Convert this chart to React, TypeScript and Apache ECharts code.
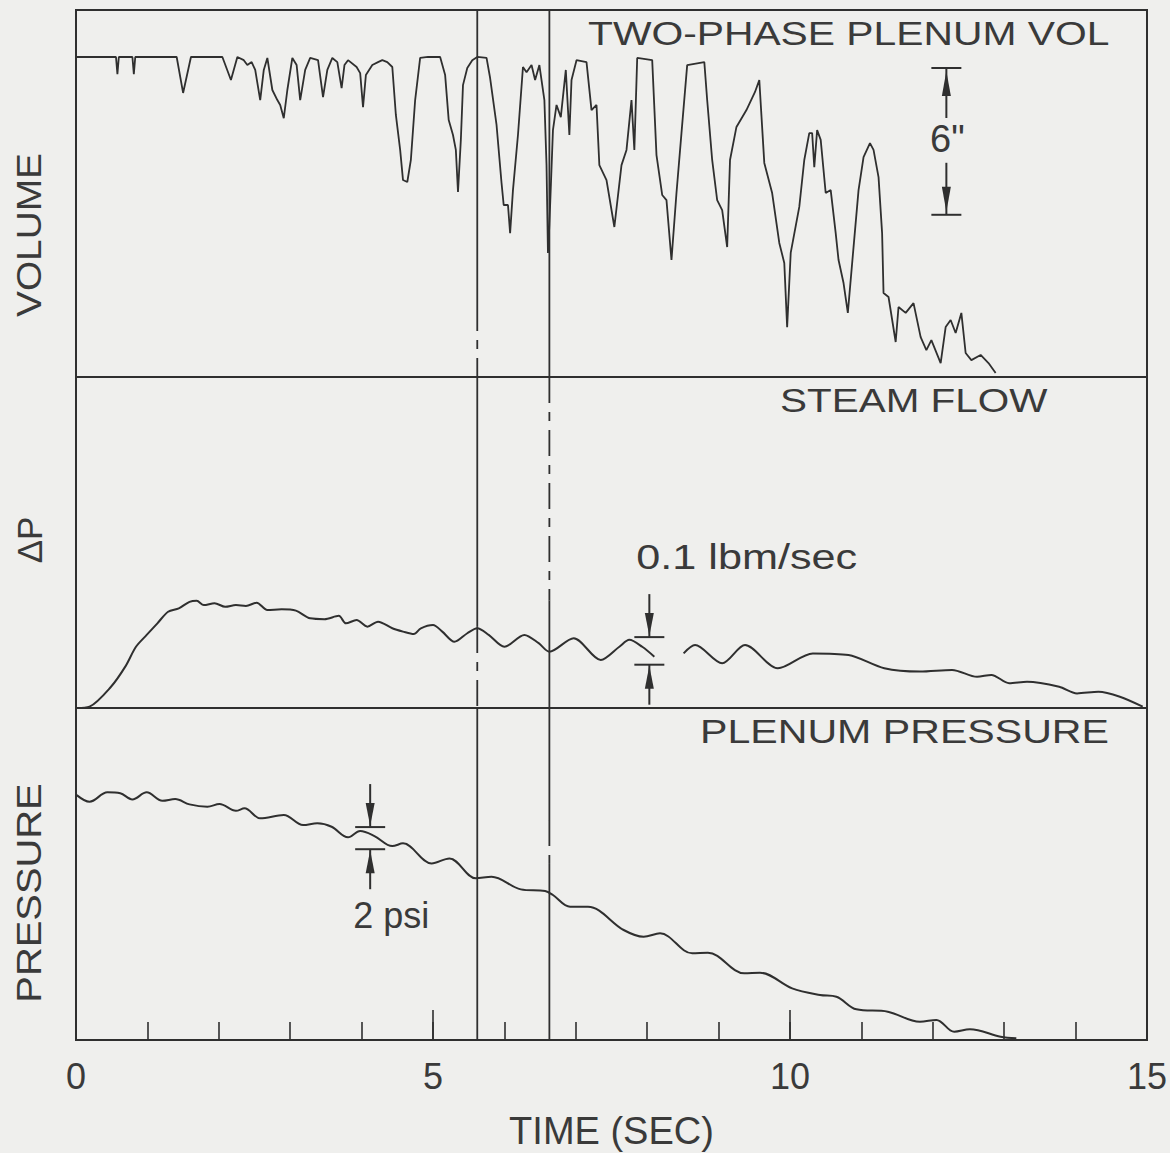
import React, { useEffect, useRef } from "react";
import * as echarts from "echarts";

// ---- data (time in seconds) ----
const volumeTrace: number[][] = [
  [0.01,13.08],[0.56,13.08],[0.58,12.38],[0.60,13.08],[0.79,13.08],[0.81,12.38],[0.83,13.08],[1.41,13.08],[1.50,11.61],[1.61,13.08],
  [2.05,13.08],[2.17,12.14],[2.26,13.08],[2.35,12.95],[2.40,12.75],[2.46,12.87],[2.51,12.55],[2.58,11.32],[2.63,12.55],[2.68,13.04],
  [2.75,11.73],[2.82,11.32],[2.86,11.12],[2.91,10.58],[2.96,11.73],[3.03,13.04],[3.09,12.75],[3.14,11.32],[3.21,12.55],[3.28,13.04],
  [3.39,12.95],[3.46,11.44],[3.52,12.55],[3.59,13.04],[3.66,12.87],[3.72,11.81],[3.76,12.75],[3.81,12.95],[3.93,12.67],[3.98,12.42],
  [4.02,11.03],[4.06,12.34],[4.15,12.75],[4.23,12.87],[4.29,12.95],[4.36,12.87],[4.43,12.67],[4.48,10.71],[4.54,9.28],[4.58,8.05],
  [4.64,7.97],[4.69,8.87],[4.75,11.32],[4.82,13.04],[4.93,13.08],[5.10,13.08],[5.17,12.34],[5.22,10.50],[5.28,9.89],[5.32,9.28],
  [5.35,7.56],[5.39,9.69],[5.42,11.93],[5.48,12.63],[5.55,12.95],[5.62,13.08],[5.75,13.04],[5.80,12.22],[5.89,10.30],[5.96,7.93],
  [5.99,7.03],[6.05,7.03],[6.08,5.88],[6.12,7.64],[6.19,9.89],[6.26,12.67],[6.31,12.46],[6.38,12.75],[6.43,12.14],[6.49,12.75],
  [6.56,11.32],[6.59,8.66],[6.61,5.07],[6.63,6.21],[6.68,10.09],[6.73,11.12],[6.79,10.62],[6.86,12.55],[6.91,9.89],[6.94,12.14],
  [7.01,12.95],[7.15,12.87],[7.22,10.91],[7.29,11.12],[7.33,8.66],[7.43,8.05],[7.54,6.13],[7.64,8.66],[7.71,9.28],[7.78,11.32],
  [7.82,9.28],[7.86,13.04],[8.07,12.95],[8.13,9.07],[8.21,7.44],[8.27,7.23],[8.34,4.78],[8.41,7.52],[8.48,9.97],[8.56,12.75],
  [8.80,12.87],[8.84,11.32],[8.91,8.87],[8.98,7.23],[9.05,6.82],[9.12,5.31],[9.16,8.87],[9.25,10.22],[9.39,10.91],[9.51,11.65],
  [9.57,12.14],[9.64,8.75],[9.75,7.52],[9.85,5.48],[9.92,4.66],[9.96,2.04],[10.01,5.07],[10.13,6.95],[10.20,8.87],[10.27,9.97],
  [10.31,9.97],[10.34,8.58],[10.38,10.09],[10.43,9.69],[10.50,7.52],[10.57,7.64],[10.64,5.88],[10.68,4.78],[10.75,3.84],[10.81,2.62],
  [10.89,5.31],[10.96,7.64],[11.03,8.99],[11.12,9.56],[11.17,9.28],[11.24,8.17],[11.29,5.88],[11.31,3.43],[11.38,3.27],[11.48,1.43],
  [11.52,2.86],[11.62,2.62],[11.73,3.02],[11.83,1.63],[11.91,1.10],[11.98,1.51],[12.11,0.57],[12.18,2.04],[12.25,2.33],[12.32,1.80],
  [12.40,2.62],[12.46,0.98],[12.54,0.69],[12.67,0.90],[12.78,0.57],[12.88,0.16]
];

const steamFlowTrace: (number | string)[][] = [
  [0.01,0],[0.19,0.005],[0.49,0.077],[0.69,0.150],[0.84,0.222],[0.99,0.265],[1.14,0.307],[1.29,0.349],[1.44,0.361],[1.59,0.385],
  [1.69,0.389],[1.79,0.373],[1.94,0.380],[2.09,0.367],[2.24,0.373],[2.38,0.370],[2.53,0.382],[2.68,0.355],[2.88,0.358],[3.08,0.353],
  [3.28,0.325],[3.48,0.322],[3.68,0.334],[3.78,0.307],[3.93,0.319],[4.08,0.295],[4.23,0.313],[4.43,0.289],[4.58,0.277],[4.73,0.268],
  [4.83,0.289],[5.00,0.301],[5.13,0.277],[5.30,0.240],[5.48,0.271],[5.62,0.289],[5.78,0.265],[6.00,0.222],[6.28,0.265],[6.48,0.235],
  [6.63,0.204],[6.97,0.253],[7.35,0.174],[7.61,0.222],[7.75,0.247],[7.93,0.222],[8.10,0.186],[8.30,"-"],[8.51,0.198],[8.67,0.228],
  [9.05,0.162],[9.37,0.228],[9.83,0.144],[10.32,0.198],[10.82,0.192],[11.32,0.144],[11.82,0.132],[12.27,0.138],[12.62,0.113],[12.82,0.120],
  [13.07,0.090],[13.32,0.095],[13.77,0.077],[14.02,0.053],[14.32,0.059],[14.62,0.041],[14.94,0.005]
];

const pressureTrace: number[][] = [
  [0.01,22.13],[0.19,21.53],[0.44,22.38],[0.62,22.29],[0.79,21.74],[0.99,22.38],[1.21,21.62],[1.39,21.77],[1.59,21.29],[1.84,21.08],
  [2.01,21.32],[2.24,20.71],[2.36,20.93],[2.58,20.03],[2.91,20.33],[3.18,19.42],[3.38,19.58],[3.58,19.27],[3.81,18.31],[3.98,18.88],
  [4.18,18.43],[4.43,17.52],[4.58,17.77],[4.98,15.96],[5.23,16.41],[5.60,14.61],[5.82,14.75],[6.23,13.61],[6.57,13.46],[6.68,13.10],
  [6.92,12.04],[7.17,12.04],[7.67,9.94],[7.95,9.33],[8.18,9.64],[8.63,7.83],[8.85,7.89],[9.36,6.03],[9.58,6.08],[10.03,4.67],
  [10.42,4.07],[10.65,3.91],[10.93,2.77],[11.37,2.56],[11.82,1.65],[12.05,1.81],[12.30,0.75],[12.52,0.97],[12.95,0.30],[13.17,0.15]
];

// axis ranges: volume (in), steam flow (lbm/sec), pressure (psi)
const yRanges = [[0, 15], [0, 1.2], [0, 30]];
const timeRange = [0, 15];
const panelTitles = ["TWO-PHASE PLENUM VOL", "STEAM FLOW", "PLENUM PRESSURE"];
const yAxisNames = ["VOLUME", "ΔP", "PRESSURE"];
const xAxisName = "TIME (SEC)";

// vertical marker lines (time) and their solid / dash-dot segments per panel
const markerTimes = [5.62, 6.63];
const markerSegments = [
  { m: 0, grid: 0, from: 15, to: 2.94, dash: false },
  { m: 0, grid: 0, from: 2.94, to: 0, dash: true },
  { m: 0, grid: 1, from: 1.2, to: 0.294, dash: false },
  { m: 0, grid: 1, from: 0.294, to: 0, dash: true },
  { m: 0, grid: 2, from: 30, to: 0, dash: false },
  { m: 1, grid: 0, from: 15, to: 0, dash: false },
  { m: 1, grid: 1, from: 1.2, to: 0.39, dash: true },
  { m: 1, grid: 1, from: 0.39, to: 0, dash: false },
  { m: 1, grid: 2, from: 30, to: 19.87, dash: false },
  { m: 1, grid: 2, from: 19.87, to: 15.99, dash: true },
  { m: 1, grid: 2, from: 15.99, to: 0, dash: false },
];

// scale bars: time position, top value, span (6 in, 0.1 lbm/sec, 2 psi)
const scaleBars = [
  { grid: 0, t: 12.19, top: 12.63, span: 6, label: '6"', inner: true },
  { grid: 1, t: 8.03, top: 0.257, span: 0.1, label: "0.1 lbm/sec", inner: false },
  { grid: 2, t: 4.12, top: 19.24, span: 2, label: "2 psi", inner: false },
];

const INK = "#2f2f2f";
const TEXT_INK = "#3a3a3a";
const FONT = '"Liberation Sans", Arial, sans-serif';

export default function App() {
  const ref = useRef<HTMLDivElement>(null);

  useEffect(() => {
    if (!ref.current) return;
    const chart = echarts.init(ref.current, undefined, { renderer: "svg" });

    const grids = [
      { left: 76, right: 23, top: 10, height: 367 },
      { left: 76, right: 23, top: 377, height: 331 },
      { left: 76, right: 23, top: 708, height: 332 },
    ].map((g) => ({
      ...g,
      show: true,
      borderColor: INK,
      borderWidth: 2,
      backgroundColor: "transparent",
      containLabel: false,
      outerBoundsMode: "none",
    }));

    const hiddenX = (i: number) => ({
      type: "value",
      gridIndex: i,
      min: timeRange[0],
      max: timeRange[1],
      show: false,
    });

    const xAxes: any[] = [
      hiddenX(0),
      hiddenX(1),
      {
        type: "value",
        gridIndex: 2,
        position: "bottom",
        min: 0,
        max: 15,
        interval: 1,
        axisLine: { show: true, lineStyle: { color: INK, width: 2 } },
        axisTick: { show: true, inside: true, length: 18, lineStyle: { color: INK, width: 1.6 } },
        axisLabel: { show: false },
        splitLine: { show: false },
      },
      {
        type: "value",
        gridIndex: 2,
        position: "bottom",
        min: 0,
        max: 15,
        interval: 5,
        axisLine: { show: false },
        axisTick: { show: true, inside: true, length: 30, lineStyle: { color: INK, width: 1.6 } },
        axisLabel: { show: true, fontSize: 36, fontFamily: FONT, color: TEXT_INK, margin: 18 },
        splitLine: { show: false },
        name: xAxisName,
        nameLocation: "middle",
        nameGap: 72,
        nameTextStyle: { fontSize: 38, fontFamily: FONT, color: TEXT_INK },
      },
    ];

    const yAxes = yRanges.map((r, i) => ({
      type: "value",
      gridIndex: i,
      min: r[0],
      max: r[1],
      show: false,
    }));

    const traceStyle = { color: INK, width: 2 };
    const series: any[] = [
      {
        type: "line",
        xAxisIndex: 0,
        yAxisIndex: 0,
        data: volumeTrace,
        showSymbol: false,
        lineStyle: { ...traceStyle, width: 1.8 },
        silent: true,
      },
      {
        type: "line",
        xAxisIndex: 1,
        yAxisIndex: 1,
        data: steamFlowTrace,
        showSymbol: false,
        smooth: 0.3,
        connectNulls: false,
        lineStyle: traceStyle,
        silent: true,
      },
      {
        type: "line",
        xAxisIndex: 2,
        yAxisIndex: 2,
        data: pressureTrace,
        showSymbol: false,
        smooth: 0.35,
        lineStyle: traceStyle,
        silent: true,
      },
    ];

    markerSegments.forEach((s) => {
      const t = markerTimes[s.m];
      series.push({
        type: "line",
        xAxisIndex: s.grid,
        yAxisIndex: s.grid,
        data: [
          [t, s.from],
          [t, s.to],
        ],
        showSymbol: false,
        silent: true,
        lineStyle: {
          color: INK,
          width: 1.8,
          type: s.dash ? [26, 9, 9, 9] : "solid",
        },
      });
    });

    chart.setOption({
      animation: false,
      backgroundColor: "#efefed",
      grid: grids,
      xAxis: xAxes,
      yAxis: yAxes,
      series,
    });

    // ---- annotations ----
    const g: any[] = [];
    const addText = (
      text: string,
      x: number,
      y: number,
      size: number,
      align: string,
      scaleX = 1,
      rotation = 0
    ) =>
      g.push({
        type: "text",
        x,
        y,
        scaleX,
        rotation,
        silent: true,
        style: {
          text,
          font: `${size}px ${FONT}`,
          fill: TEXT_INK,
          textAlign: align,
          textVerticalAlign: "middle",
          align,
          verticalAlign: "middle",
        },
      });
    const addLine = (x1: number, y1: number, x2: number, y2: number, w = 2) =>
      g.push({ type: "line", silent: true, shape: { x1, y1, x2, y2 }, style: { stroke: INK, lineWidth: w } });
    const addHead = (x: number, tipY: number, baseY: number) =>
      g.push({
        type: "polygon",
        silent: true,
        shape: { points: [[x, tipY], [x - 4.5, baseY], [x + 4.5, baseY]] },
        style: { fill: INK },
      });

    // panel titles
    addText(panelTitles[0], 588, 33, 34, "left", 1.2);
    addText(panelTitles[1], 780, 400, 34, "left", 1.19);
    addText(panelTitles[2], 700, 731, 34, "left", 1.21);

    // y-axis names (rotated)
    addText(yAxisNames[0], 29, 235, 35, "center", 1.11, Math.PI / 2);
    addText(yAxisNames[1], 29, 540, 35, "center", 1, Math.PI / 2);
    addText(yAxisNames[2], 29, 893, 35, "center", 1.14, Math.PI / 2);

    // scale bars
    scaleBars.forEach((b) => {
      const pTop = chart.convertToPixel({ gridIndex: b.grid }, [b.t, b.top]) as number[];
      const pBot = chart.convertToPixel({ gridIndex: b.grid }, [b.t, b.top - b.span]) as number[];
      const x = pTop[0];
      const yT = pTop[1];
      const yB = pBot[1];
      addLine(x - 15, yT, x + 15, yT, 2);
      addLine(x - 15, yB, x + 15, yB, 2);
      if (b.inner) {
        addLine(x, yT, x, yT + 50, 2);
        addHead(x, yT + 3, yT + 28);
        addLine(x, yB - 52, x, yB, 2);
        addHead(x, yB - 3, yB - 28);
        addText(b.label, x + 1, (yT + yB) / 2 - 2, 38, "center");
      } else {
        addLine(x, yT - 43, x, yT, 2);
        addHead(x, yT - 1, yT - 24);
        addLine(x, yB, x, yB + 40, 2);
        addHead(x, yB + 1, yB + 24);
        if (b.grid === 1) {
          addText(b.label, x - 13, yT - 81, 36, "left", 1.2);
        } else {
          addText(b.label, x - 17, yB + 66, 36, "left", 1);
        }
      }
    });

    chart.setOption({ graphic: { elements: g } });

    return () => chart.dispose();
  }, []);

  return (
    <div
      ref={ref}
      style={{ position: "fixed", left: 0, top: 0, width: 1170, height: 1153 }}
    />
  );
}
